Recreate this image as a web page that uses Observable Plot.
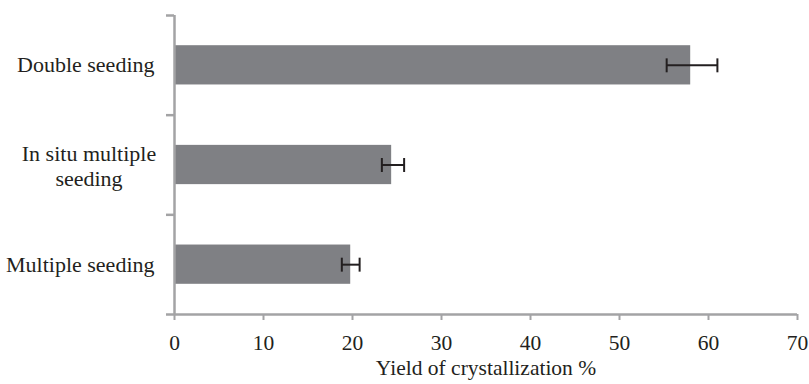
<!DOCTYPE html>
<html>
<head>
<meta charset="utf-8">
<script src="https://cdn.jsdelivr.net/npm/d3@7"></script>
<script src="https://cdn.jsdelivr.net/npm/@observablehq/plot@0.6"></script>
<style>
  html, body { margin: 0; padding: 0; background: #fff; }
  #chart svg { display: block; }
</style>
</head>
<body>
<div id="chart"></div>
<script>
// Data (top to bottom in the chart)
const categories = ["Double seeding", "In situ multiple\nseeding", "Multiple seeding"];
const yieldValues = [58.0, 24.4, 19.8];
const errLow = [55.3, 23.3, 18.8];
const errHigh = [61.0, 25.8, 20.8];
const xTicks = [0, 10, 20, 30, 40, 50, 60, 70];

const n = categories.length;
const rows = categories.map((c, i) => ({
  cat: c,
  pos: n - i - 0.5,          // band centre on a linear y scale
  value: yieldValues[i],
  lo: errLow[i],
  hi: errHigh[i]
}));
const caps = rows.flatMap(d => [{x: d.lo, pos: d.pos}, {x: d.hi, pos: d.pos}]);

const axisGray = "#a3a3a5";
const barGray = "#7f8084";
const ink = "#231f20";
const font = "'Liberation Serif', 'Times New Roman', serif";

const chart = Plot.plot({
  width: 809,
  height: 384,
  marginLeft: 174,
  marginRight: 12,
  marginTop: 15,
  marginBottom: 70,
  style: { fontFamily: font, fontSize: "22px", color: ink, background: "#fff" },
  x: { domain: [0, 70] },
  y: { domain: [0, n] },
  marks: [
    Plot.rect(rows, {
      x1: 0, x2: "value",
      y1: d => d.pos - 0.197, y2: d => d.pos + 0.197,
      fill: barGray
    }),
    // error bars
    Plot.link(rows, {
      x1: "lo", x2: "hi", y1: "pos", y2: "pos",
      stroke: ink, strokeWidth: 2
    }),
    Plot.link(caps, {
      x1: "x", x2: "x",
      y1: d => d.pos - 0.07, y2: d => d.pos + 0.07,
      stroke: ink, strokeWidth: 2
    }),
    // y axis line + boundary ticks
    Plot.ruleX([0], { stroke: axisGray, strokeWidth: 2.5 }),
    Plot.axisY({
      ticks: d3.range(0, n + 1),
      tickSize: 8,
      tickFormat: () => "",
      stroke: axisGray,
      strokeWidth: 2.5,
      label: null
    }),
    // x axis line
    Plot.ruleY([0], { stroke: axisGray, strokeWidth: 2.5 }),
    Plot.axisX({
      ticks: xTicks,
      tickSize: 6,
      tickPadding: 14,
      stroke: axisGray,
      strokeWidth: 2,
      fill: ink,
      fontSize: 21.5,
      fontFamily: font,
      label: "Yield of crystallization %",
      labelAnchor: "center",
      labelArrow: "none",
      labelOffset: 60
    }),
    // category labels
    Plot.text(rows.filter(d => !d.cat.includes("\n")), {
      y: "pos", text: "cat",
      frameAnchor: "left", dx: -20, textAnchor: "end",
      fill: ink, fontSize: 22, fontFamily: font
    }),
    Plot.text(rows.filter(d => d.cat.includes("\n")), {
      y: "pos", text: "cat",
      frameAnchor: "left", dx: -85.5, textAnchor: "middle",
      lineHeight: 1.14,
      fill: ink, fontSize: 22, fontFamily: font
    })
  ]
});

document.getElementById("chart").appendChild(chart);
</script>
</body>
</html>
